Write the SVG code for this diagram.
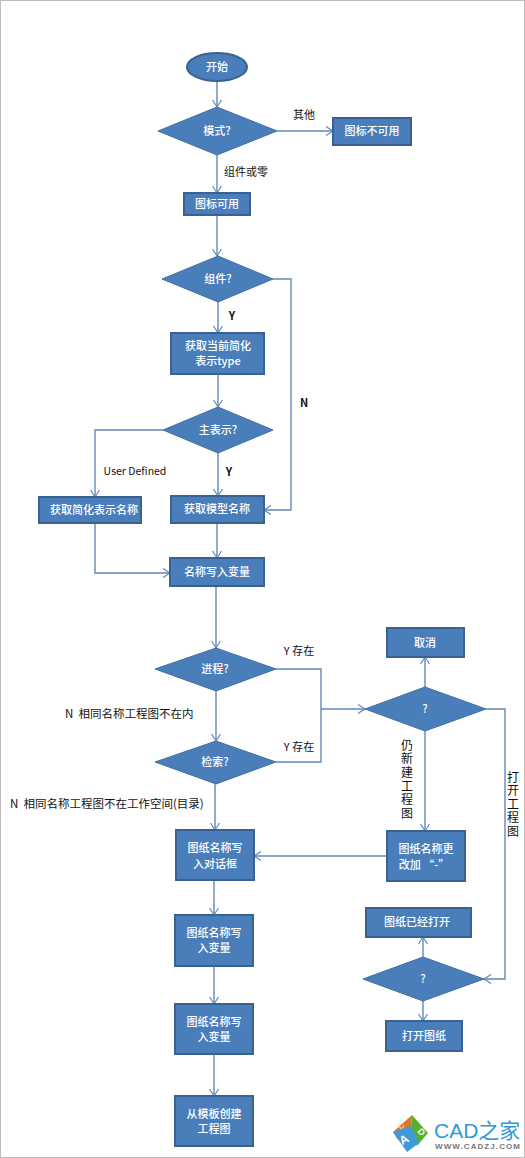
<svg xmlns="http://www.w3.org/2000/svg" width="525" height="1158" viewBox="0 0 525 1158">
<style>
.n{fill:#4a7ebb;stroke:#3a6291;stroke-width:2}
.d{fill:#4a7ebb;stroke:#41709f;stroke-width:1}
.c{fill:none;stroke:#6288b8;stroke-width:1.4;marker-end:url(#a)}
.l{fill:none;stroke:#6288b8;stroke-width:1.4}
text{font-family:"Noto Sans CJK SC","Liberation Sans",sans-serif;font-size:11px;text-anchor:middle}
.w{fill:#fff;font-weight:500}
.b{fill:#111;font-size:11px}
.v{fill:#111;font-size:12px;writing-mode:vertical-rl;letter-spacing:1.6px}
.m{fill:#111;font-size:11.5px;text-anchor:start}
</style>
<defs><marker id="a" markerWidth="10" markerHeight="10" refX="8" refY="5" orient="auto" markerUnits="userSpaceOnUse"><path d="M1 0.5L8 5L1 9.5" fill="none" stroke="#6288b8" stroke-width="1.2"/></marker></defs>
<rect x="0.5" y="0.5" width="524" height="1157" fill="#fff" stroke="#bdbdbd"/>
<g id="connectors">
<path class="c" d="M217 81V107"/>
<path class="c" d="M277 131H333"/>
<path class="c" d="M217 155V193"/>
<path class="c" d="M217 215V256"/>
<path class="c" d="M218 302V333"/>
<path class="c" d="M273 279H291V510H264"/>
<path class="c" d="M218 374V407"/>
<path class="c" d="M163 430H95V497"/>
<path class="c" d="M218 453V496"/>
<path class="c" d="M95 523V573H170"/>
<path class="c" d="M217 523V558"/>
<path class="c" d="M216 586V648"/>
<path class="c" d="M216 691V741"/>
<path class="c" d="M215 784V830"/>
<path class="l" d="M276 669H321V762H276"/>
<path class="c" d="M321 709H365"/>
<path class="c" d="M425 687V657"/>
<path class="c" d="M425 731V831"/>
<path class="c" d="M486 709H505V979H484"/>
<path class="c" d="M387 856H254"/>
<path class="c" d="M423 957V937"/>
<path class="c" d="M423 1001V1021"/>
<path class="c" d="M214 880V915"/>
<path class="c" d="M214 966V1004"/>
<path class="c" d="M214 1054V1096"/>
</g>
<g id="start"><ellipse class="n" cx="217" cy="67" rx="30" ry="14"/><text class="w" x="217" y="71">开始</text></g>
<g id="mode"><polygon class="d" points="158,131 217,107 277,131 217,155"/><text class="w" x="217" y="135">模式?</text></g>
<g id="unavailable"><rect class="n" x="333" y="118" width="78" height="27"/><text class="w" x="372" y="135">图标不可用</text></g>
<g id="available"><rect class="n" x="184" y="193" width="66" height="22"/><text class="w" x="217" y="208">图标可用</text></g>
<g id="assembly"><polygon class="d" points="162,279 218,256 273,279 218,302"/><text class="w" x="218" y="283">组件?</text></g>
<g id="gettype"><rect class="n" x="171" y="333" width="93" height="41"/><text class="w" x="218" y="350">获取当前简化</text><text class="w" x="218" y="365">表示type</text></g>
<g id="master"><polygon class="d" points="163,430 218,407 273,430 218,453"/><text class="w" x="218" y="434">主表示?</text></g>
<g id="simpname"><rect class="n" x="39" y="497" width="102" height="26"/><text class="w" x="94" y="514">获取简化表示名称</text></g>
<g id="modelname"><rect class="n" x="171" y="496" width="93" height="27"/><text class="w" x="217" y="513">获取模型名称</text></g>
<g id="writevar"><rect class="n" x="170" y="558" width="94" height="28"/><text class="w" x="217" y="576">名称写入变量</text></g>
<g id="process"><polygon class="d" points="155,669 216,648 276,669 216,691"/><text class="w" x="215" y="673">进程?</text></g>
<g id="search"><polygon class="d" points="155,762 216,741 276,762 216,784"/><text class="w" x="215" y="766">检索?</text></g>
<g id="q1"><polygon class="d" points="365,709 425,687 486,709 425,731"/><text class="w" x="425" y="713">?</text></g>
<g id="cancel"><rect class="n" x="387" y="628" width="77" height="29"/><text class="w" x="425" y="647">取消</text></g>
<g id="rename"><rect class="n" x="387" y="831" width="78" height="50"/><text class="w" x="426" y="853">图纸名称更</text><text class="w" x="424" y="869">改加 “-”</text></g>
<g id="dialog"><rect class="n" x="176" y="830" width="78" height="50"/><text class="w" x="215" y="852">图纸名称写</text><text class="w" x="215" y="868">入对话框</text></g>
<g id="opened"><rect class="n" x="366" y="908" width="105" height="29"/><text class="w" x="417" y="926">图纸已经打开</text></g>
<g id="q2"><polygon class="d" points="363,979 423,957 484,979 423,1001"/><text class="w" x="423" y="983">?</text></g>
<g id="open"><rect class="n" x="386" y="1021" width="76" height="30"/><text class="w" x="424" y="1040">打开图纸</text></g>
<g id="var1"><rect class="n" x="175" y="915" width="78" height="51"/><text class="w" x="214" y="937">图纸名称写</text><text class="w" x="214" y="952">入变量</text></g>
<g id="var2"><rect class="n" x="175" y="1004" width="78" height="50"/><text class="w" x="214" y="1026">图纸名称写</text><text class="w" x="214" y="1041">入变量</text></g>
<g id="template"><rect class="n" x="175" y="1096" width="78" height="50"/><text class="w" x="214" y="1118">从模板创建</text><text class="w" x="214" y="1133">工程图</text></g>
<g id="labels">
<text class="b" x="304" y="119">其他</text>
<text class="b" x="246" y="176">组件或零</text>
<text class="b" x="232" y="320" style="font-weight:700">Y</text>
<text class="b" x="304" y="407" style="font-weight:700">N</text>
<text class="b" x="135" y="475" style="font-size:10.5px">User Defined</text>
<text class="b" x="229" y="476" style="font-weight:700">Y</text>
<text class="b" x="299" y="655">Y 存在</text>
<text class="b" x="299" y="751">Y 存在</text>
<text class="m" x="65" y="718" xml:space="preserve">N  相同名称工程图不在内</text>
<text class="m" x="10" y="808" xml:space="preserve">N  相同名称工程图不在工作空间(目录)</text>
<text class="v" x="407" y="780">仍新建工程图</text>
<text class="v" x="513" y="805">打开工程图</text>
</g>
<g id="logo">
<polygon points="393,1132 412,1115 411,1126 398,1140" fill="#d9782d"/>
<polygon points="412,1115 428,1133 417,1146 411,1126" fill="#55b22f"/>
<polygon points="393,1132 411,1126 419,1143 407,1152" fill="#3f9ad8"/>
<text transform="translate(406 1143) rotate(-30)" style="font-family:'Liberation Sans',sans-serif;font-size:12px;font-weight:700;fill:#fff">A</text>
<text transform="translate(419 1134) rotate(50)" style="font-family:'Liberation Sans',sans-serif;font-size:9px;font-weight:700;fill:#fff">D</text>
<text transform="translate(403 1128) rotate(-45)" style="font-family:'Liberation Sans',sans-serif;font-size:8px;font-weight:700;fill:#f6d9a8">C</text>
<text x="434" y="1138" style="font-family:'Liberation Sans','Noto Sans CJK SC',sans-serif;font-size:21px;fill:#2d9ad6;text-anchor:start">CAD之家</text>
<text x="435" y="1149" textLength="85" style="font-family:'Liberation Sans',sans-serif;font-size:8px;font-weight:700;fill:#777;text-anchor:start">WWW.CADZJ.COM</text>
</g>
</svg>
